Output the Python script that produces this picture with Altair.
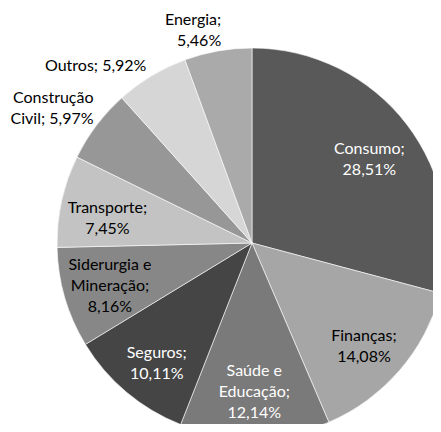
import altair as alt
import pandas as pd

setores = ["Consumo", "Finanças", "Saúde e Educação", "Seguros", "Siderurgia e Mineração",
           "Transporte", "Construção Civil", "Outros", "Energia"]
valores = [28.51, 14.08, 12.14, 10.11, 8.16, 7.45, 5.97, 5.92, 5.46]
rotulos = ["Consumo;\n28,51%", "Finanças;\n14,08%", "Saúde e\nEducação;\n12,14%",
           "Seguros;\n10,11%", "Siderurgia e\nMineração;\n8,16%", "Transporte;\n7,45%",
           "Construção\nCivil; 5,97%", "Outros; 5,92%", "Energia;\n5,46%"]
cores = ["#595959", "#a6a6a6", "#7a7a7a", "#454545", "#878787",
         "#c3c3c3", "#979797", "#d6d6d6", "#aaaaaa"]
texto_branco = ["Consumo", "Saúde e Educação", "Seguros"]
fora = ["Construção Civil", "Outros", "Energia"]

df = pd.DataFrame({
    "setor": setores,
    "valor": valores,
    "rotulo": rotulos,
    "ordem": list(range(len(setores))),
})

CX, CY, R = 244, 235, 195
FONT = "Lato"
FS = 16
LH = 21

base = alt.Chart(df).transform_calculate(
    n="length(split(datum.rotulo, '\\n'))",
    fora=f"indexof({fora}, datum.setor) >= 0",
    tc=f"indexof({texto_branco}, datum.setor) >= 0 ? 'white' : 'black'",
)

theta = alt.Theta("valor:Q", stack=True)
order = alt.Order("ordem:Q")

arcs = alt.Chart(df).mark_arc(radius=R, stroke="white", strokeWidth=0.6).encode(
    theta=theta,
    order=order,
    x=alt.value(CX),
    y=alt.value(CY),
    color=alt.Color("setor:N", scale=alt.Scale(domain=setores, range=cores), legend=None),
)


def label_layer(outside, nlines, radius, align, dx=0, dy=0):
    cond = ("datum.fora" if outside else "!datum.fora") + f" && datum.n == {nlines}"
    return base.transform_calculate(
        t=f"{cond} ? datum.rotulo : ''"
    ).mark_text(
        radius=radius, font=FONT, fontSize=FS, lineBreak="\n", lineHeight=LH,
        align=align, baseline="middle", dy=dy, dx=dx,
    ).encode(
        theta=theta,
        order=order,
        x=alt.value(CX),
        y=alt.value(CY),
        text="t:N",
        color=alt.Color("tc:N", scale=None),
    )


layers = [
    arcs,
    label_layer(False, 2, 148, "center", dy=-LH / 2 + 7),
    label_layer(False, 3, 148, "center", dy=-LH + 1),
    label_layer(True, 1, 205, "right", dy=-1),
    label_layer(True, 2, 205, "right", dx=5, dy=-LH),
]

chart = alt.layer(*layers).properties(
    width=425, height=416, padding=0,
    autosize=alt.AutoSizeParams(type="none"),
).configure_view(stroke=None)

chart.save("out.html", embed_options={"renderer": "svg", "actions": False})
